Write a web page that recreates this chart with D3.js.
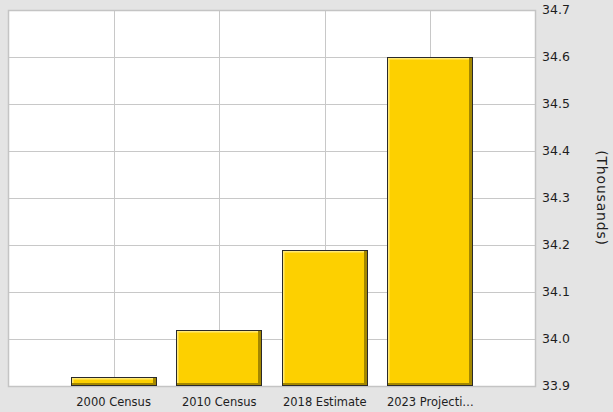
<!DOCTYPE html>
<html>
<head>
<meta charset="utf-8">
<script src="https://cdn.jsdelivr.net/npm/d3@7"></script>
<style>
  html, body { margin: 0; padding: 0; background: #e4e4e4; }
  svg { display: block; }
</style>
</head>
<body>
<div id="chart"></div>
<script>
// categories and values (thousands)
var categories = ["2000 Census", "2010 Census", "2018 Estimate", "2023 Projecti\u2026"];
var population = [33.92, 34.02, 34.19, 34.60];
var yTicks = [33.9, 34.0, 34.1, 34.2, 34.3, 34.4, 34.5, 34.6, 34.7];
var axisTitle = "(Thousands)";

var W = 613, H = 412;
var plot = {left: 8, top: 10, right: 536, bottom: 386};

var svg = d3.select("#chart").append("svg")
    .attr("width", W)
    .attr("height", H);

svg.append("rect")
    .attr("width", W).attr("height", H)
    .attr("fill", "#e4e4e4");

// x: categories sit at 1..n on a 0..n+1 scale
var xScale = d3.scaleLinear()
    .domain([0, categories.length + 1])
    .range([plot.left, plot.right]);
var step = xScale(1) - xScale(0);
var barW = Math.round(step * 0.81);

var yScale = d3.scaleLinear()
    .domain([33.9, 34.7])
    .range([plot.bottom, plot.top]);

// plot background
svg.append("rect")
    .attr("x", plot.left).attr("y", plot.top)
    .attr("width", plot.right - plot.left)
    .attr("height", plot.bottom - plot.top)
    .attr("fill", "#ffffff");

// gridlines
svg.append("g")
    .selectAll("line")
    .data(yTicks)
    .enter()
    .append("line")
    .attr("x1", plot.left).attr("x2", plot.right)
    .attr("y1", function (d) { return Math.round(yScale(d)) + 0.5; })
    .attr("y2", function (d) { return Math.round(yScale(d)) + 0.5; })
    .attr("stroke", "#c8c8c8");

svg.append("g")
    .selectAll("line")
    .data(categories)
    .enter()
    .append("line")
    .attr("x1", function (d, i) { return Math.round(xScale(i + 1)) + 0.5; })
    .attr("x2", function (d, i) { return Math.round(xScale(i + 1)) + 0.5; })
    .attr("y1", plot.top).attr("y2", plot.bottom)
    .attr("stroke", "#c8c8c8");

// plot border
svg.append("rect")
    .attr("x", plot.left + 0.5).attr("y", plot.top + 0.5)
    .attr("width", plot.right - plot.left - 1)
    .attr("height", plot.bottom - plot.top)
    .attr("fill", "none")
    .attr("stroke", "#c4c4c4")
    .attr("stroke-width", 1.5);

// bars with bevel
var bars = svg.append("g")
    .selectAll("g")
    .data(population)
    .enter()
    .append("g")
    .attr("transform", function (d, i) {
        return "translate(" + Math.round(xScale(i + 1) - barW / 2) + "," + Math.round(yScale(d)) + ")";
    });

bars.append("rect")
    .attr("x", 0.5).attr("y", 0.5)
    .attr("width", barW - 1)
    .attr("height", function (d) { return plot.bottom - Math.round(yScale(d)) - 1; })
    .attr("fill", "#fdd000")
    .attr("stroke", "#2a2a2a");

// shadow right + bottom
bars.append("rect")
    .attr("x", barW - 4).attr("y", 1)
    .attr("width", 3)
    .attr("height", function (d) { return Math.max(0, plot.bottom - Math.round(yScale(d)) - 2); })
    .attr("fill", "#a38700");
bars.append("rect")
    .attr("x", 1)
    .attr("y", function (d) { return plot.bottom - Math.round(yScale(d)) - 3; })
    .attr("width", barW - 2)
    .attr("height", 2)
    .attr("fill", "#a38700");

// highlight top + left
bars.append("rect")
    .attr("x", 1).attr("y", 1)
    .attr("width", barW - 5)
    .attr("height", 1.5)
    .attr("fill", "#ffe873");
bars.append("rect")
    .attr("x", 1).attr("y", 1)
    .attr("width", 1.5)
    .attr("height", function (d) { return Math.max(0, plot.bottom - Math.round(yScale(d)) - 4); })
    .attr("fill", "#ffe873");

// y tick labels on the right
svg.append("g")
    .selectAll("text")
    .data(yTicks)
    .enter()
    .append("text")
    .attr("x", 542)
    .attr("y", function (d) { return yScale(d); })
    .attr("dy", "0.35em")
    .attr("font-family", "DejaVu Sans, sans-serif")
    .attr("font-size", 12.5)
    .attr("fill", "#1e1e1e")
    .text(function (d) { return d.toFixed(1); });

// x category labels
svg.append("g")
    .selectAll("text")
    .data(categories)
    .enter()
    .append("text")
    .attr("x", function (d, i) { return xScale(i + 1); })
    .attr("y", 406)
    .attr("text-anchor", "middle")
    .attr("font-family", "DejaVu Sans, sans-serif")
    .attr("font-size", 11.5)
    .attr("fill", "#1e1e1e")
    .text(function (d) { return d; });

// axis title
svg.append("text")
    .attr("transform", "translate(597," + ((plot.top + plot.bottom) / 2) + ") rotate(90)")
    .attr("text-anchor", "middle")
    .attr("font-family", "DejaVu Sans, sans-serif")
    .attr("font-size", 14)
    .attr("letter-spacing", 0.8)
    .attr("fill", "#1e1e1e")
    .text(axisTitle);
</script>
</body>
</html>
